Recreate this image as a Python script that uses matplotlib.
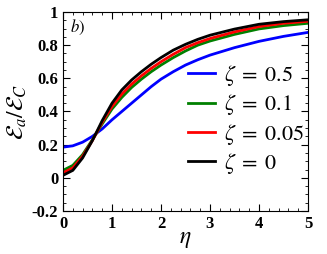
import matplotlib
matplotlib.use("Agg")
import matplotlib.pyplot as plt
from matplotlib.ticker import MultipleLocator

plt.rcParams['mathtext.fontset'] = 'stix'
plt.rcParams['font.family'] = 'Liberation Serif'

# ---- data ----
eta = [0, 0.2, 0.4, 0.6, 0.8, 1.0, 1.2, 1.4, 1.6, 1.8, 2.0,
       2.25, 2.5, 2.75, 3, 3.5, 4, 4.5, 5]
ea_05 = [0.185, 0.193, 0.215, 0.25, 0.295, 0.35, 0.40, 0.45, 0.50, 0.55, 0.595,
         0.64, 0.68, 0.712, 0.74, 0.785, 0.823, 0.853, 0.877]
ea_01 = [0.045, 0.075, 0.14, 0.23, 0.325, 0.415, 0.485, 0.545, 0.595, 0.64, 0.68,
         0.725, 0.765, 0.80, 0.825, 0.865, 0.898, 0.918, 0.932]
ea_005 = [0.03, 0.06, 0.13, 0.225, 0.335, 0.43, 0.505, 0.565, 0.615, 0.66, 0.70,
          0.745, 0.785, 0.815, 0.84, 0.88, 0.912, 0.932, 0.944]
ea_0 = [0.015, 0.045, 0.12, 0.225, 0.345, 0.45, 0.53, 0.59, 0.64, 0.685, 0.725,
        0.77, 0.805, 0.835, 0.86, 0.897, 0.926, 0.942, 0.953]

series = [(ea_05, 'blue', r'$\zeta\;=\;0.5$'),
          (ea_01, 'green', r'$\zeta\;=\;0.1$'),
          (ea_005, 'red', r'$\zeta\;=\;0.05$'),
          (ea_0, 'black', r'$\zeta\;=\;0$')]

fig = plt.figure(figsize=(3.27, 2.54), dpi=100)
ax = fig.add_axes([63/327, 1-211/254, 245/327, 199/254])

for y, c, lab in series:
    ax.plot(eta, y, color=c, lw=2, label=lab)

ax.set_xlim(0, 5)
ax.set_ylim(-0.2, 1)
ax.xaxis.set_minor_locator(MultipleLocator(0.2))
ax.yaxis.set_minor_locator(MultipleLocator(0.05))
ax.tick_params(which='both', direction='in', top=True, right=True)
ax.tick_params(which='major', length=5, labelsize=12)
ax.tick_params(which='minor', length=2.5)
ax.set_yticks([-0.2, 0, 0.2, 0.4, 0.6, 0.8, 1])
ax.set_yticklabels(['-0.2', '0', '0.2', '0.4', '0.6', '0.8', '1'], fontweight='bold')
ax.set_xticks([0, 1, 2, 3, 4, 5])
ax.set_xticklabels(['0', '1', '2', '3', '4', '5'], fontweight='bold')

ax.set_xlabel(r'$\eta$', fontsize=17, labelpad=-2)
ax.set_ylabel(r'$\mathcal{E}_a/\mathcal{E}_C$', fontsize=17, labelpad=2)
ax.text(0.03, 0.97, r'$b)$', transform=ax.transAxes, fontsize=12, va='top')

leg = ax.legend(loc='lower right', frameon=False, fontsize=16, handlelength=1.2,
                handletextpad=0.4, labelspacing=0.2, borderaxespad=0.0,
                bbox_to_anchor=(1.02, 0.13))

fig.savefig('out.png', dpi=100)
